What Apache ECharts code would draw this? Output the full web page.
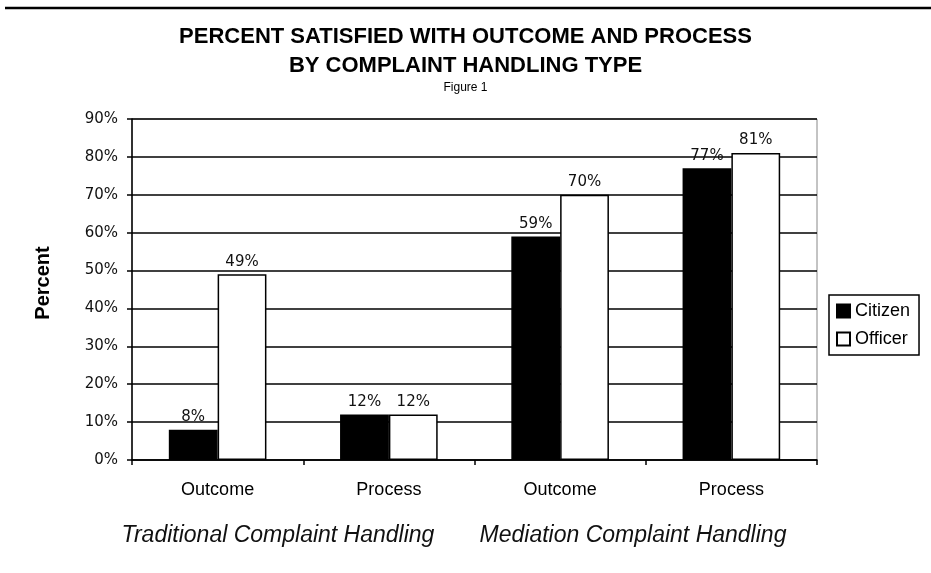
<!DOCTYPE html>
<html><head><meta charset="utf-8">
<script src="https://cdn.jsdelivr.net/npm/echarts@6/dist/echarts.min.js"></script>
<style>html,body{margin:0;padding:0;background:#fff}#c{width:931px;height:573px}</style>
</head><body><div id="c"></div>
<script>
const categories = ['Outcome', 'Process', 'Outcome', 'Process'];
const citizen = [8, 12, 59, 77];
const officer = [49, 12, 70, 81];
const yTicks = [0, 10, 20, 30, 40, 50, 60, 70, 80, 90];
const groupLabels = ['Traditional Complaint Handling', 'Mediation Complaint Handling'];
const yAxisTitle = 'Percent';

const F = '"Liberation Sans", Arial, sans-serif';
const W = '"DejaVu Sans", Verdana, sans-serif';
const chart = echarts.init(document.getElementById('c'));
const lbl = {show: true, position: 'top', distance: 5, fontFamily: W, fontSize: 15, color: '#111', formatter: p => p.value + '%'};
chart.setOption({
  animation: false,
  title: {
    text: 'PERCENT SATISFIED WITH OUTCOME AND PROCESS\nBY COMPLAINT HANDLING TYPE',
    subtext: 'Figure 1',
    left: 'center', top: 17, itemGap: 1,
    textStyle: {fontFamily: F, fontSize: 22, fontWeight: 'bold', color: '#000', lineHeight: 29},
    subtextStyle: {fontFamily: F, fontSize: 12, color: '#000', lineHeight: 14}
  },
  grid: {left: 132, right: 114, top: 119, bottom: 113, show: true, borderColor: '#888', borderWidth: 1},
  legend: {
    orient: 'vertical', left: 829, top: 295,
    data: ['Citizen', 'Officer'],
    icon: 'rect',
    itemWidth: 13, itemHeight: 13, itemGap: 10,
    padding: [7, 9, 7, 7],
    borderColor: '#000', borderWidth: 1.5, backgroundColor: '#fff',
    textStyle: {fontFamily: F, fontSize: 18, color: '#000'}
  },
  xAxis: {
    type: 'category', data: categories,
    axisLine: {lineStyle: {color: '#000', width: 1.5}},
    axisTick: {show: true, length: 5, lineStyle: {color: '#000', width: 1.5}},
    axisLabel: {fontFamily: F, fontSize: 18, color: '#000', margin: 21}
  },
  yAxis: {
    type: 'value', min: 0, max: 90, interval: 10,
    axisLine: {show: true, lineStyle: {color: '#000', width: 1.5}},
    axisTick: {show: true, length: 5, lineStyle: {color: '#000', width: 1.5}},
    axisLabel: {fontFamily: W, fontSize: 15, color: '#111', margin: 14,
      formatter: v => yTicks.includes(v) ? v + '%' : ''},
    splitLine: {lineStyle: {color: '#000', width: 1.5}}
  },
  series: [
    {name: 'Citizen', type: 'bar', data: citizen, barGap: '0%', barCategoryGap: '43%',
     itemStyle: {color: '#000', borderColor: '#000', borderWidth: 1.5}, label: lbl},
    {name: 'Officer', type: 'bar', data: officer,
     itemStyle: {color: '#fff', borderColor: '#000', borderWidth: 1.5}, label: lbl}
  ],
  graphic: [
    {type: 'line', shape: {x1: 5, y1: 8, x2: 931, y2: 8}, style: {stroke: '#000', lineWidth: 2.5}},
    {type: 'text', x: 43, y: 283, rotation: Math.PI / 2,
     style: {text: yAxisTitle, font: 'bold 20px ' + F, fill: '#000', textAlign: 'center', textVerticalAlign: 'middle'}},
    {type: 'text', x: 278, y: 536, style: {text: groupLabels[0], font: 'italic 23px ' + F, fill: '#111', textAlign: 'center', textVerticalAlign: 'middle'}},
    {type: 'text', x: 633, y: 536, style: {text: groupLabels[1], font: 'italic 23px ' + F, fill: '#111', textAlign: 'center', textVerticalAlign: 'middle'}}
  ]
});
</script></body></html>
